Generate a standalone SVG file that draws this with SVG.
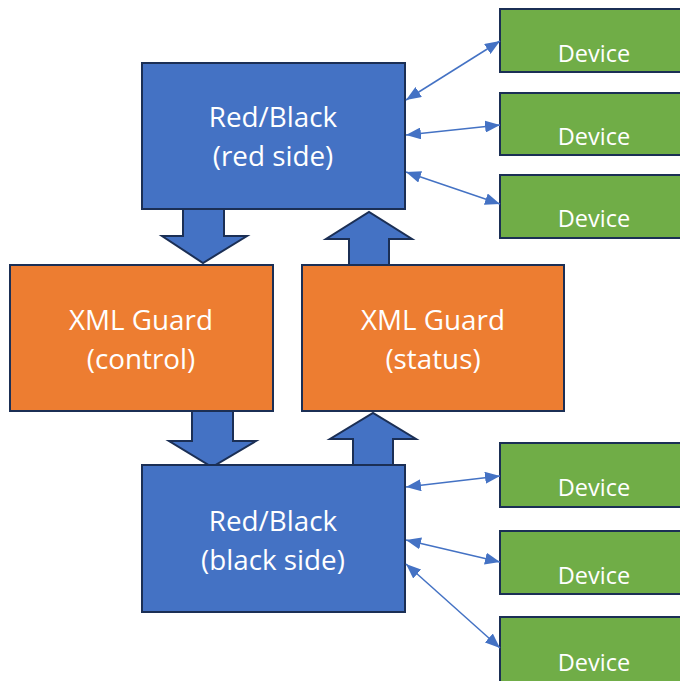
<svg xmlns="http://www.w3.org/2000/svg" width="680" height="681" viewBox="0 0 680 681">
  <style>
    .box { stroke: #1b2f55; stroke-width: 2; }
    .blue { fill: #4472c4; }
    .orange { fill: #ed7d31; }
    .green { fill: #70ad47; }
    .big { font-family: "Open Sans", "Noto Sans", sans-serif; font-size: 27.8px; fill: #ffffff; text-anchor: middle; }
    .small { font-family: "Open Sans", "Noto Sans", sans-serif; font-size: 23.5px; fill: #ffffff; text-anchor: middle; }
    .link { stroke: #4472c4; stroke-width: 1.5; fill: none; marker-start: url(#tip); marker-end: url(#tip); }
    .block { fill: #4472c4; stroke: #1b2f55; stroke-width: 2; stroke-linejoin: miter; }
  </style>
  <defs>
    <marker id="tip" viewBox="0 0 10 10" refX="10" refY="5" markerWidth="15" markerHeight="12" markerUnits="userSpaceOnUse" orient="auto-start-reverse" preserveAspectRatio="none">
      <path d="M0,0 L10,5 L0,10 Z" fill="#4472c4"/>
    </marker>
  </defs>
  <rect width="680" height="681" fill="#ffffff"/>

  <!-- block arrows between the main boxes -->
  <g id="flow-arrows">
    <polygon class="block" points="183,209 224,209 224,236 247,236 203,263 162,236 183,236"/>
    <polygon class="block" points="349,265 389,265 389,239 412,239 369,212 326,239 349,239"/>
    <polygon class="block" points="192,411 233,411 233,441 256,441 212,467 169,441 192,441"/>
    <polygon class="block" points="353,465 393,465 393,439 416,439 373,413 330,439 353,439"/>
  </g>

  <g id="red-side">
    <rect class="box blue" x="142" y="63" width="263" height="146"/>
    <text class="big" x="273" y="127">Red/Black</text>
    <text class="big" x="273" y="166">(red side)</text>
  </g>
  <g id="guard-control">
    <rect class="box orange" x="10" y="265" width="263" height="146"/>
    <text class="big" x="141" y="330">XML Guard</text>
    <text class="big" x="141" y="369">(control)</text>
  </g>
  <g id="guard-status">
    <rect class="box orange" x="302" y="265" width="262" height="146"/>
    <text class="big" x="433" y="330">XML Guard</text>
    <text class="big" x="433" y="369">(status)</text>
  </g>
  <g id="black-side">
    <rect class="box blue" x="142" y="465" width="263" height="147"/>
    <text class="big" x="273" y="531">Red/Black</text>
    <text class="big" x="273" y="570">(black side)</text>
  </g>

  <g id="device-1"><rect class="box green" x="500" y="9" width="190" height="63"/><text class="small" x="594" y="62">Device</text></g>
  <g id="device-2"><rect class="box green" x="500" y="93" width="190" height="62"/><text class="small" x="594" y="145">Device</text></g>
  <g id="device-3"><rect class="box green" x="500" y="175" width="190" height="63"/><text class="small" x="594" y="227">Device</text></g>
  <g id="device-4"><rect class="box green" x="500" y="443" width="190" height="64"/><text class="small" x="594" y="496">Device</text></g>
  <g id="device-5"><rect class="box green" x="500" y="531" width="190" height="63"/><text class="small" x="594" y="584">Device</text></g>
  <g id="device-6"><rect class="box green" x="500" y="617" width="190" height="70"/><text class="small" x="594" y="671">Device</text></g>

  <g id="connectors">
    <line class="link" x1="406" y1="100" x2="500" y2="41"/>
    <line class="link" x1="406" y1="135" x2="500" y2="125"/>
    <line class="link" x1="406" y1="172" x2="500" y2="204"/>
    <line class="link" x1="406" y1="487" x2="500" y2="476"/>
    <line class="link" x1="406" y1="540" x2="500" y2="562"/>
    <line class="link" x1="406" y1="564" x2="500" y2="648"/>
  </g>
</svg>
